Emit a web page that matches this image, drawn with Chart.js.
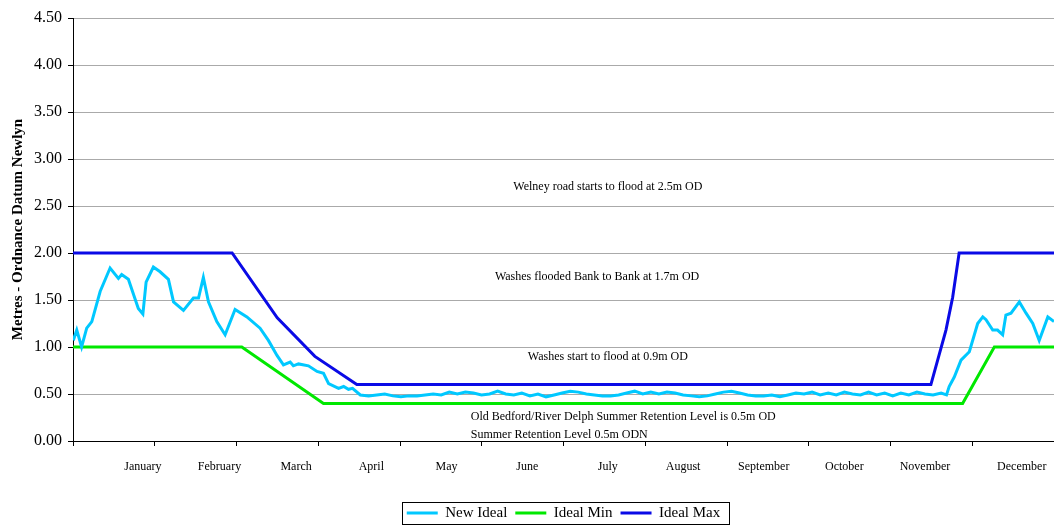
<!DOCTYPE html>
<html>
<head>
<meta charset="utf-8">
<script src="https://cdn.jsdelivr.net/npm/chart.js@4"></script>
<style>
  html, body { margin: 0; padding: 0; background: #fff; }
  #wrap { width: 1054px; height: 525px; }
</style>
</head>
<body>
<div id="wrap"><canvas id="grafico"></canvas></div>
<script>
// month names and where Excel put them (day of year)
const months = ['January', 'February', 'March', 'April', 'May', 'June', 'July',
  'August', 'September', 'October', 'November', 'December'];
const monthLabelDays = [26, 54.5, 83, 111, 139, 169, 199, 227, 257, 287, 317, 353];

const yTicks = [0, 0.5, 1, 1.5, 2, 2.5, 3, 3.5, 4, 4.5];

// [day of year, metres OD]
const idealMax = [[0, 2.0], [59.2, 2.0], [76, 1.31], [90, 0.9], [105.6, 0.6],
  [319.2, 0.6], [324.8, 1.18], [327.3, 1.53], [329.7, 2.0], [365, 2.0]];

const idealMin = [[0, 1.0], [62.8, 1.0], [93.2, 0.4], [331, 0.4], [342.8, 1.0], [365, 1.0]];

const newIdeal = [
  [0.1, 1.07], [1.4, 1.18], [3.2, 1.0], [5.1, 1.2], [7.0, 1.27], [10.1, 1.59], [13.8, 1.84],
  [16.9, 1.73], [18.1, 1.77], [20.6, 1.72], [24.3, 1.41], [26.0, 1.35], [27.2, 1.69],
  [29.9, 1.85], [32.4, 1.80], [35.5, 1.72], [37.4, 1.48], [41.1, 1.39], [44.8, 1.52],
  [46.7, 1.52], [48.5, 1.74], [50.4, 1.48], [53.5, 1.27], [56.6, 1.13], [60.3, 1.40],
  [64.7, 1.32], [69.6, 1.20], [72.7, 1.07], [75.9, 0.91], [78.3, 0.81], [80.8, 0.84],
  [82.0, 0.80], [83.9, 0.82], [87.6, 0.80], [90.8, 0.74], [93.2, 0.72], [95.1, 0.61],
  [98.8, 0.56], [100.7, 0.58], [102.5, 0.55], [104, 0.56], [106.9, 0.49],
  [110, 0.48], [113, 0.49], [116, 0.50], [119, 0.48], [122, 0.47], [125, 0.48],
  [128, 0.48], [131, 0.49], [134, 0.50], [137, 0.49], [140, 0.52], [143, 0.50],
  [146, 0.52], [149, 0.51], [152, 0.49], [155, 0.50], [158, 0.53], [161, 0.50],
  [164, 0.49], [167, 0.51], [170, 0.48], [173, 0.50], [176, 0.47], [179, 0.49],
  [182, 0.51], [185, 0.53], [188, 0.52], [191, 0.50], [194, 0.49], [197, 0.48],
  [200, 0.48], [203, 0.49], [206, 0.51], [209, 0.53], [212, 0.50], [215, 0.52],
  [218, 0.50], [221, 0.52], [224, 0.51], [227, 0.49], [230, 0.48], [233, 0.47],
  [236, 0.48], [239, 0.50], [242, 0.52], [245, 0.53], [248, 0.51], [251, 0.49],
  [254, 0.48], [257, 0.48], [260, 0.49], [263, 0.47], [266, 0.49], [269, 0.51],
  [272, 0.50], [275, 0.52], [278, 0.49], [281, 0.51], [284, 0.49], [287, 0.52],
  [290, 0.50], [293, 0.49], [296, 0.52], [299, 0.49], [302, 0.51], [305, 0.48],
  [308, 0.51], [311, 0.49], [314, 0.52], [317, 0.50], [320, 0.49], [323, 0.51],
  [325, 0.49], [326.0, 0.58], [327.9, 0.68], [330.4, 0.86], [333.5, 0.95], [336.6, 1.25],
  [338.5, 1.32], [339.7, 1.29], [342.2, 1.18], [344.0, 1.18], [345.9, 1.13], [347.1, 1.34],
  [349.0, 1.36], [352.1, 1.48], [354.6, 1.36], [357.1, 1.25], [359.5, 1.07], [362.7, 1.32],
  [365, 1.27]
];

const notes = [
  { text: 'Welney road starts to flood at 2.5m OD', day: 199, level: 2.705, align: 'center' },
  { text: 'Washes flooded Bank to Bank at 1.7m OD', day: 195, level: 1.748, align: 'center' },
  { text: 'Washes start to flood at 0.9m OD', day: 199, level: 0.89, align: 'center' },
  { text: 'Old Bedford/River Delph Summer Retention Level is 0.5m OD', day: 148, level: 0.252, align: 'left' },
  { text: 'Summer Retention Level 0.5m ODN', day: 148, level: 0.064, align: 'left' }
];

const serif = '"Liberation Serif", "Times New Roman", serif';
const toXY = arr => arr.map(p => ({ x: p[0], y: p[1] }));

const notesPlugin = {
  id: 'notes',
  afterDatasetsDraw(chart) {
    const ctx = chart.ctx;
    const x = chart.scales.x, y = chart.scales.y;
    ctx.save();
    ctx.font = '12px ' + serif;
    ctx.fillStyle = '#000';
    ctx.textBaseline = 'middle';
    notes.forEach(n => {
      ctx.textAlign = n.align;
      ctx.fillText(n.text, x.getPixelForValue(n.day), y.getPixelForValue(n.level));
    });
    ctx.restore();
  }
};

// legend sits a bit lower than the layout leaves room for, plus a box round it
const legendBox = {
  id: 'legendBox',
  afterLayout(chart) {
    chart.legend.top += 5.5;
    chart.legend.bottom += 5.5;
  },
  afterDraw(chart) {
    const boxes = chart.legend.legendHitBoxes;
    if (!boxes || !boxes.length) return;
    const first = boxes[0], last = boxes[boxes.length - 1];
    const left = first.left - 5, right = last.left + last.width + 8;
    const top = first.top - 4, bottom = first.top + first.height + 4;
    const ctx = chart.ctx;
    ctx.save();
    ctx.strokeStyle = '#000';
    ctx.lineWidth = 1;
    ctx.strokeRect(Math.round(left) + 0.5, Math.round(top) + 0.5, Math.round(right - left), Math.round(bottom - top) - 1);
    ctx.restore();
  }
};

const ctx = document.getElementById('grafico').getContext('2d');

const grafico = new Chart(ctx, {
  type: 'line',
  data: {
    datasets: [{
      label: 'New Ideal',
      data: toXY(newIdeal),
      borderColor: '#00c8ff',
      backgroundColor: '#00c8ff',
      borderWidth: 3
    }, {
      label: 'Ideal Min',
      data: toXY(idealMin),
      borderColor: '#00e800',
      backgroundColor: '#00e800',
      borderWidth: 3
    }, {
      label: 'Ideal Max',
      data: toXY(idealMax),
      borderColor: '#0a0ae6',
      backgroundColor: '#0a0ae6',
      borderWidth: 3
    }]
  },
  options: {
    responsive: true,
    maintainAspectRatio: false,
    animation: false,
    layout: { padding: { top: 18, right: 0, bottom: 0, left: 0 } },
    elements: {
      point: { radius: 0 },
      line: { tension: 0 }
    },
    plugins: {
      tooltip: { enabled: false },
      legend: {
        position: 'bottom',
        fullSize: false,
        labels: {
          usePointStyle: true,
          pointStyle: 'line',
          pointStyleWidth: 31,
          padding: 8,
          color: '#000',
          font: { family: serif, size: 15 }
        }
      }
    },
    scales: {
      x: {
        type: 'linear',
        min: 0,
        max: 365,
        afterBuildTicks: s => { s.ticks = months.concat(['']).map((m, i) => ({ value: i * 365 / 12 })); },
        afterFit: s => { s.height = 5; s.paddingLeft = 0; s.paddingRight = 0; },
        ticks: { display: false },
        grid: { drawOnChartArea: false, tickLength: 5, tickColor: '#000' },
        border: { color: '#000' }
      },
      x2: {
        type: 'linear',
        position: 'bottom',
        weight: 1,
        min: 0,
        max: 365,
        afterBuildTicks: s => { s.ticks = monthLabelDays.map(d => ({ value: d })); },
        afterFit: s => { s.height = 46; s.paddingLeft = 0; s.paddingRight = 0; },
        ticks: {
          autoSkip: false,
          maxRotation: 0,
          padding: 14,
          color: '#000',
          font: { family: serif, size: 12 },
          callback: (v, i) => months[i]
        },
        grid: { display: false, drawTicks: false },
        border: { display: false }
      },
      y: {
        min: 0,
        max: 4.5,
        afterBuildTicks: s => { s.ticks = yTicks.map(v => ({ value: v })); },
        afterFit: s => { s.width = 73; },
        ticks: {
          padding: 6,
          color: '#000',
          font: { family: serif, size: 16 },
          callback: v => v.toFixed(2)
        },
        grid: { color: '#aaaaaa', tickLength: 5, tickColor: '#000' },
        border: { color: '#000' },
        title: {
          display: true,
          text: 'Metres - Ordnance Datum Newlyn',
          color: '#000',
          font: { family: serif, size: 15, weight: 'bold' },
          padding: { top: 9, bottom: 0 }
        }
      }
    }
  },
  plugins: [notesPlugin, legendBox]
});
</script>
</body>
</html>
